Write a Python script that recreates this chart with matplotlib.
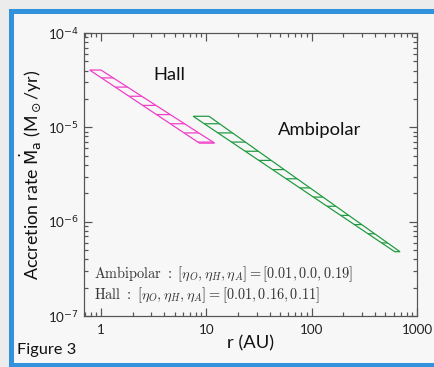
import matplotlib
matplotlib.use("Agg")
import matplotlib.pyplot as plt
from matplotlib.patches import Rectangle
from matplotlib.ticker import LogLocator, NullFormatter, FixedLocator, FixedFormatter

plt.rcParams["font.family"] = ["Lato", "DejaVu Sans"]
plt.rcParams["hatch.linewidth"] = 0.8

# boundaries of the two allowed regions (r in AU, Mdot in Msun/yr)
hall_r = [0.78, 1.0, 12.0, 8.6]
hall_mdot = [4.05e-5, 4.05e-5, 6.8e-6, 6.8e-6]
ambi_r = [7.5, 10.6, 690.0, 615.0]
ambi_mdot = [1.31e-5, 1.31e-5, 4.8e-7, 4.8e-7]

x_ticks = [1, 10, 100, 1000]
x_labels = ["1", "10", "100", "1000"]
y_ticks = [1e-7, 1e-6, 1e-5, 1e-4]
y_labels = ["10$^{-7}$", "10$^{-6}$", "10$^{-5}$", "10$^{-4}$"]

notes = [
    r"$\mathrm{Ambipolar\ :\ }[\eta_O,\eta_H,\eta_A]=[0.01,0.0,0.19]$",
    r"$\mathrm{Hall\ :\ }[\eta_O,\eta_H,\eta_A]=[0.01,0.16,0.11]$",
]

DPI = 110
W, H = 434, 367
fig = plt.figure(figsize=(W / DPI, H / DPI), dpi=DPI)
fig.patch.set_facecolor("#ececec")

# slide frame: blue border, light grey panel
frame = Rectangle((10.5 / W, 2.5 / H), (W + 20) / W, (H - 13) / H,
                  transform=fig.transFigure, facecolor="#f7f7f7",
                  edgecolor="#3293dc", linewidth=3.3, zorder=-10)
fig.patches.append(frame)

ax = fig.add_axes([84 / W, 1 - 316 / H, (417 - 84) / W, (316 - 33) / H])
ax.set_facecolor("#f7f7f7")
ax.set_xscale("log")
ax.set_yscale("log")
ax.set_xlim(0.69, 1000)
ax.set_ylim(1e-7, 1e-4)

ax.fill(hall_r, hall_mdot, facecolor="none", edgecolor="#f03cc8",
        hatch="--", linewidth=0.8)
ax.fill(ambi_r, ambi_mdot, facecolor="none", edgecolor="#1f9a40",
        hatch="--", linewidth=0.8)

ax.xaxis.set_major_locator(FixedLocator(x_ticks))
ax.xaxis.set_major_formatter(FixedFormatter(x_labels))
ax.yaxis.set_major_locator(FixedLocator(y_ticks))
ax.yaxis.set_major_formatter(FixedFormatter(y_labels))
ax.xaxis.set_minor_locator(LogLocator(base=10, subs=range(2, 10)))
ax.yaxis.set_minor_locator(LogLocator(base=10, subs=range(2, 10)))
ax.xaxis.set_minor_formatter(NullFormatter())
ax.yaxis.set_minor_formatter(NullFormatter())

ax.tick_params(which="both", direction="in", top=True, right=True,
               color="#555555", labelcolor="#222222", labelsize=8.8)
ax.tick_params(which="major", length=5, width=0.8)
ax.tick_params(which="minor", length=2.5, width=0.8)
ax.tick_params(axis="x", pad=5)
for s in ax.spines.values():
    s.set_color("#555555")
    s.set_linewidth(0.8)

ax.set_xlabel("r (AU)", fontsize=12, color="#111111", labelpad=0)
ax.set_ylabel(r"Accretion rate $\dot{\mathrm{M}}_{\mathrm{a}}$ (M$_\odot$/yr)",
              fontsize=11.6, color="#111111", labelpad=3)

ax.text(0.257, 0.850, "Hall", transform=ax.transAxes, fontsize=12,
        ha="center", va="center", color="#111111")
ax.text(0.706, 0.659, "Ambipolar", transform=ax.transAxes, fontsize=12,
        ha="center", va="center", color="#111111")
for i, t in enumerate(notes):
    ax.text(0.03, 0.148 - i * 0.073, t, transform=ax.transAxes, fontsize=9.4,
            ha="left", va="center", color="#333333", math_fontfamily="cm")

fig.text(17 / W, 1 - 350 / H, "Figure 3", fontsize=10.7, ha="left",
         va="center", color="#111111")

fig.savefig("out.png", dpi=DPI, facecolor=fig.get_facecolor())
